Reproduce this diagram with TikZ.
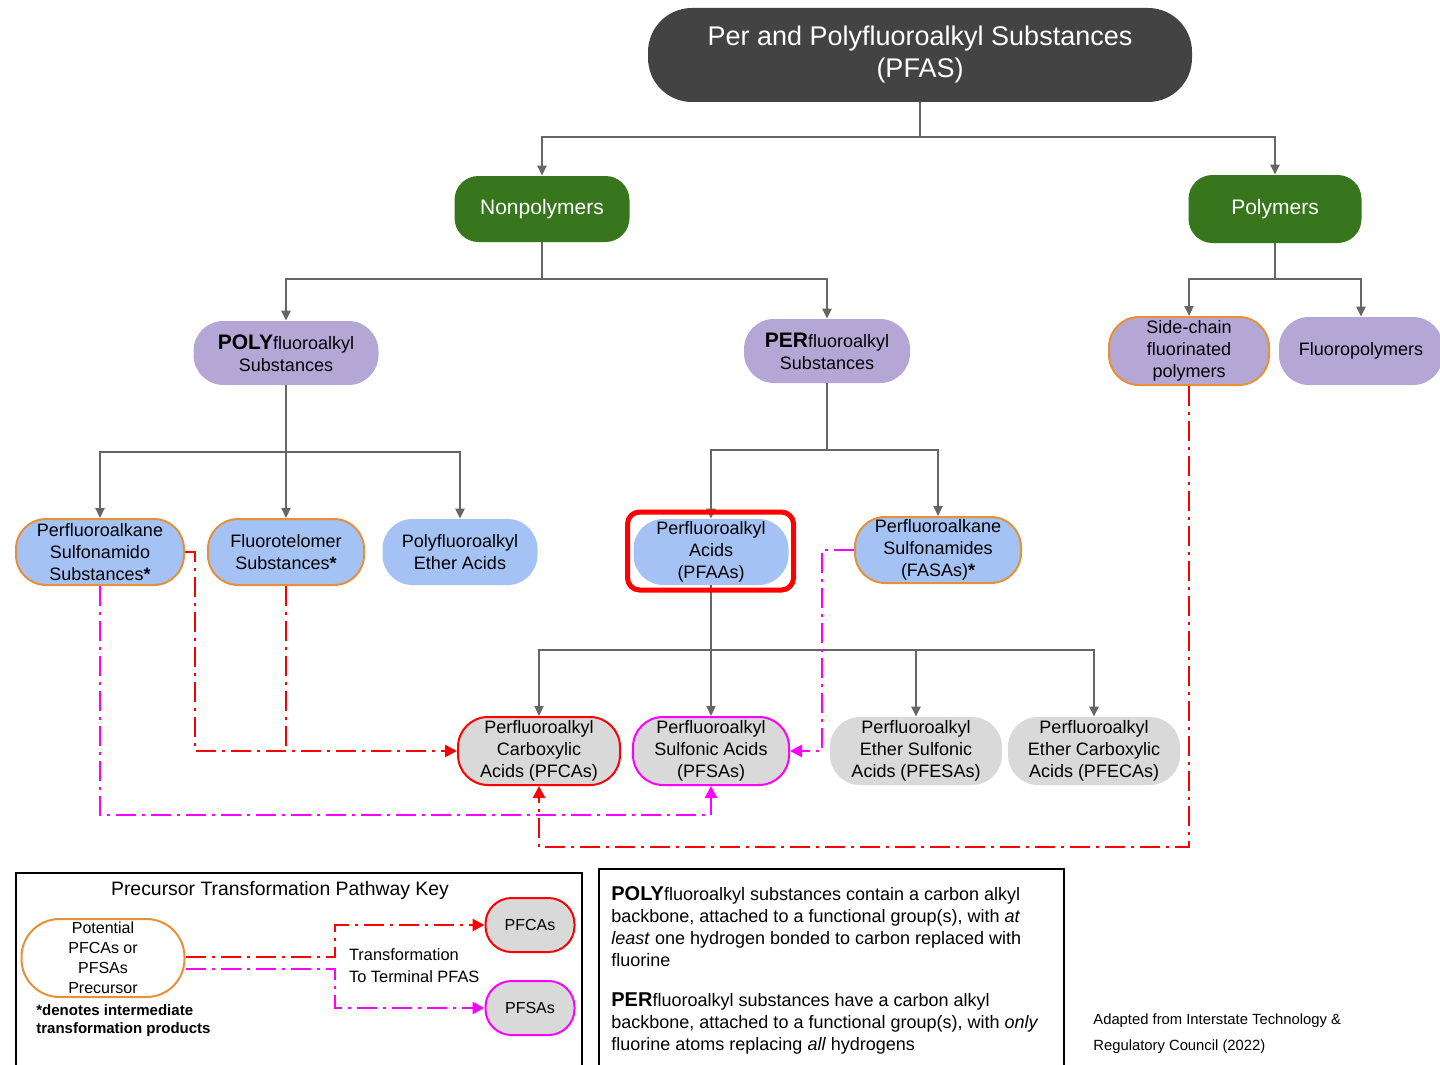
\documentclass[tikz,border=0pt]{standalone}
\usepackage{fontspec}
\setmainfont{Liberation Sans}
\usepackage{tikz}
\usetikzlibrary{arrows.meta,positioning}
\definecolor{pfdark}{RGB}{67,67,67}
\definecolor{pfgreen}{RGB}{56,118,29}
\definecolor{pfpurple}{RGB}{180,167,214}
\definecolor{pfblue}{RGB}{164,194,244}
\definecolor{pforange}{RGB}{230,145,56}
\definecolor{pfgray}{RGB}{217,217,217}
\definecolor{pfline}{RGB}{102,102,102}
\definecolor{pfred}{RGB}{255,0,0}
\definecolor{pfmagenta}{RGB}{255,0,255}

\begin{document}
\begin{tikzpicture}[
    x=0.5pt,
    y=-0.5pt,
    >={Triangle[length=5pt,width=4.5pt]},
    box/.style={
        rounded corners=15pt,
        align=center,
        inner xsep=2pt,
        inner ysep=0pt,
        minimum height=33pt,
        font=\fontsize{9}{11}\selectfont
    },
    greenbox/.style={
        rounded corners=12pt,
        fill=pfgreen,
        text=white,
        align=center,
        minimum height=33pt,
        font=\fontsize{10.5}{12}\selectfont
    },
    keybox/.style={
        rounded corners=13pt,
        fill=pfgray,
        line width=1pt,
        minimum width=44.5pt,
        minimum height=27pt,
        font=\fontsize{8}{10}\selectfont
    },
    precursor/.style={draw=pforange, line width=1pt},
    tree/.style={pfline, line width=1.1pt},
    redpath/.style={
        pfred,
        line width=1.3pt,
        dash pattern=on 10pt off 3pt on 1.5pt off 3pt
    },
    magpath/.style={
        pfmagenta,
        line width=1.3pt,
        dash pattern=on 10pt off 3pt on 1.5pt off 3pt
    },
    bigtip/.style={-{Triangle[length=6pt,width=6pt]}}
]

\useasboundingbox (0,0) rectangle (1440,1065);

% Top of the tree
\node[
    rounded corners=22pt,
    fill=pfdark,
    text=white,
    align=center,
    minimum width=272pt,
    minimum height=47pt,
    font=\fontsize{13.5}{16}\selectfont
] (pfas)
at (920,55)
{Per and Polyfluoroalkyl Substances\\(PFAS)};

\node[greenbox, minimum width=87.5pt] (nonpoly) at (542,209) {Nonpolymers};
\node[greenbox, minimum width=86.5pt, minimum height=34pt] (poly) at (1275,209) {Polymers};

% Second level
\node[box, fill=pfpurple, minimum width=92.5pt, minimum height=32pt] (polyfl)
at (286,353)
{{\fontsize{10.5}{11}\selectfont\textbf{POLY}}fluoroalkyl\\Substances};

\node[box, fill=pfpurple, minimum width=83pt, minimum height=32pt] (perfl)
at (827,351)
{{\fontsize{10.5}{11}\selectfont\textbf{PER}}fluoroalkyl\\Substances};

\node[box, precursor, fill=pfpurple, minimum width=80pt, minimum height=34pt] (sidechain)
at (1189,351)
{Side-chain\\fluorinated\\polymers};

\node[box, fill=pfpurple, minimum width=82pt, minimum height=34pt] (fluoropoly)
at (1361,351)
{Fluoropolymers};

% Third level
\node[box, precursor, fill=pfblue, minimum width=84pt] (sulfamido)
at (100,552)
{Perfluoroalkane\\Sulfonamido\\Substances\textbf{*}};

\node[box, precursor, fill=pfblue, minimum width=78pt] (telomer)
at (286,552)
{Fluorotelomer\\Substances\textbf{*}};

\node[box, fill=pfblue, minimum width=77.5pt] (etheracid)
at (460,552)
{Polyfluoroalkyl\\Ether Acids};

\node[box, fill=pfblue, minimum width=77.5pt] (pfaa)
at (711,552)
{Perfluoroalkyl\\Acids\\(PFAAs)};

\node[box, precursor, fill=pfblue, minimum width=83pt] (fasa)
at (938,550)
{Perfluoroalkane\\Sulfonamides\\(FASAs)\textbf{*}};

% Terminal acids
\node[box, fill=pfgray, draw=pfred, line width=1pt, minimum width=81pt, minimum height=34pt] (pfca)
at (539,751)
{Perfluoroalkyl\\Carboxylic\\Acids (PFCAs)};

\node[box, fill=pfgray, draw=pfmagenta, line width=1pt, minimum width=78pt, minimum height=34pt] (pfsa)
at (711,751)
{Perfluoroalkyl\\Sulfonic Acids\\(PFSAs)};

\node[box, fill=pfgray, minimum width=86pt, minimum height=34pt] (pfesa)
at (916,751)
{Perfluoroalkyl\\Ether Sulfonic\\Acids (PFESAs)};

\node[box, fill=pfgray, minimum width=86pt, minimum height=34pt] (pfeca)
at (1094,751)
{Perfluoroalkyl\\Ether Carboxylic\\Acids (PFECAs)};

% Tree lines
\coordinate (j0) at (920,137);
\coordinate (j1) at (542,279);
\coordinate (j2) at (1275,279);
\coordinate (j3) at (286,452);
\coordinate (j4) at (827,450);
\coordinate (j5) at (711,650);

\draw[tree] (pfas) -- (j0);
\draw[tree,->] (j0) -| (nonpoly);
\draw[tree,->] (j0) -| (poly);

\draw[tree] (nonpoly) -- (j1);
\draw[tree,->] (j1) -| (polyfl);
\draw[tree,->] (j1) -| (perfl);

\draw[tree] (poly) -- (j2);
\draw[tree,->] (j2) -| (sidechain);
\draw[tree,->] (j2) -| (fluoropoly);

\draw[tree] (polyfl) -- (j3);
\draw[tree,->] (j3) -| (sulfamido);
\draw[tree,->] (j3) -- (telomer);
\draw[tree,->] (j3) -| (etheracid);

\draw[tree] (perfl) -- (j4);
\draw[tree,->] (j4) -| (pfaa);
\draw[tree,->] (j4) -| (fasa);

\draw[tree] (pfaa) -- (j5);
\draw[tree,->] (j5) -| (pfca);
\draw[tree,->] (j5) -- (pfsa);
\draw[tree,->] (j5) -| (pfesa);
\draw[tree,->] (j5) -| (pfeca);

% Highlight round PFAAs
\node[
    draw=pfred,
    line width=2.5pt,
    rounded corners=6pt,
    minimum width=83pt,
    minimum height=39pt
] (highlight)
at (710.5,551)
{};

% Transformation pathways
\coordinate (r1) at (195,552);
\coordinate (r2) at (1189,847);
\coordinate (m1) at (100,815);
\coordinate (m2) at (822,550);

\draw[redpath,bigtip] (sulfamido.east) -- (r1) |- (pfca.west);
\draw[redpath] (telomer.south) -- (telomer.south |- pfca.west);
\draw[redpath,bigtip] (sidechain.south) -- (r2) -| (pfca.south);
\draw[magpath,bigtip] (sulfamido.south) -- (m1) -| (pfsa.south);
\draw[magpath,bigtip] (fasa.west) -- (m2) |- (pfsa.east);

% Key
\draw[line width=1pt] (16,1075) |- (582,873) -- (582,1075);

\node[font=\fontsize{9.7}{11}\selectfont] (keytitle)
at (280,890)
{Precursor Transformation Pathway Key};

\node[
    box,
    precursor,
    fill=white,
    rounded corners=19pt,
    minimum width=81.5pt,
    minimum height=39pt,
    font=\fontsize{8}{10}\selectfont
] (prec)
at (103,958)
{Potential\\PFCAs or\\PFSAs\\Precursor};

\node[keybox, draw=pfred] (kpfca) at (530,925) {PFCAs};
\node[keybox, draw=pfmagenta] (kpfsa) at (530,1008) {PFSAs};

\coordinate (k1) at (335,957);
\coordinate (k2) at (335,969);

\draw[redpath,bigtip] ([yshift=0.5pt]prec.east) -- (k1) |- (kpfca.west);
\draw[magpath,bigtip] ([yshift=-5.5pt]prec.east) -- (k2) |- (kpfsa.west);

\node[
    anchor=west,
    align=left,
    font=\fontsize{8.2}{11}\selectfont
] (ktrans)
at (342,966)
{Transformation\\To Terminal PFAS};

\node[
    anchor=north west,
    align=left,
    inner sep=0pt,
    font=\bfseries\fontsize{7.5}{9}\selectfont
] (knote)
at (36,1004)
{*denotes intermediate\\transformation products};

% Definitions
\draw[line width=1pt] (599,1075) |- (1064,869) -- (1064,1075);

\node[
    anchor=north west,
    align=left,
    inner sep=0pt,
    font=\fontsize{9}{11}\selectfont
] (polydef)
at (611,886)
{{\fontsize{10}{11}\selectfont\textbf{POLY}}fluoroalkyl substances contain a carbon alkyl\\
backbone, attached to a functional group(s), with \textit{at}\\
\textit{least} one hydrogen bonded to carbon replaced with\\
fluorine};

\node[
    anchor=north west,
    align=left,
    inner sep=0pt,
    font=\fontsize{9}{11}\selectfont
] (perdef)
at (611,992)
{{\fontsize{10}{11}\selectfont\textbf{PER}}fluoroalkyl substances have a carbon alkyl\\
backbone, attached to a functional group(s), with \textit{only}\\
fluorine atoms replacing \textit{all} hydrogens};

% Source
\node[
    anchor=north west,
    align=left,
    inner sep=0pt,
    font=\fontsize{7.4}{13}\selectfont
] (source)
at (1093,1013)
{Adapted from Interstate Technology \&\\Regulatory Council (2022)};

\end{tikzpicture}
\end{document}
